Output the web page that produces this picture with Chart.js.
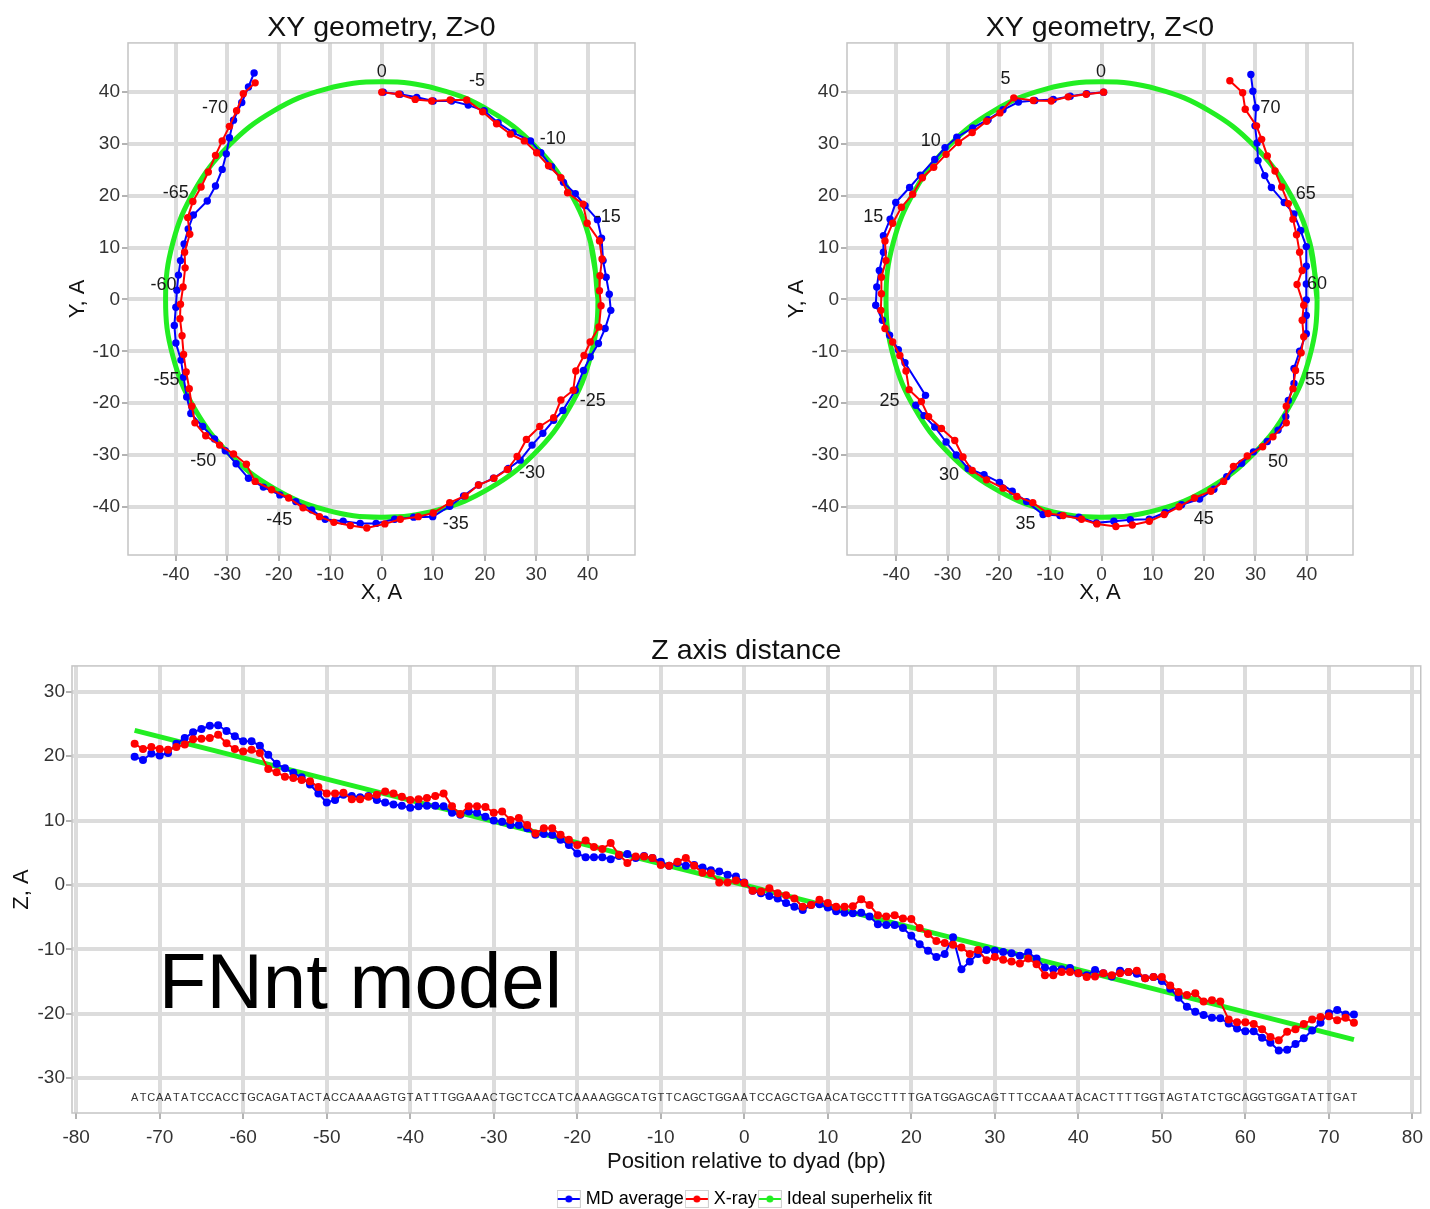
<!DOCTYPE html>
<html>
<head>
<meta charset="utf-8">
<title>FNnt model - DNA superhelix geometry</title>
<script src="https://cdn.jsdelivr.net/npm/chart.js@4.4.1/dist/chart.umd.min.js"></script>
<style>
  html, body { margin: 0; padding: 0; background: #fff; }
  body { width: 1430px; height: 1209px; position: relative; overflow: hidden; }
  canvas { position: absolute; }
</style>
</head>
<body>
<canvas id="xyPlus" width="690" height="615" style="left:0px;top:0px"></canvas>
<canvas id="xyMinus" width="730" height="615" style="left:700px;top:0px"></canvas>
<canvas id="zDist" width="1430" height="594" style="left:0px;top:615px"></canvas>

<script>
// ---- data: XY geometry, Z>0 (bp 0 .. -73) ----
const mdPlusX = [0.3, 3.6, 6.8, 10.0, 13.6, 16.8, 19.9, 22.6, 25.5, 28.9, 30.9, 33.0, 35.3, 37.6, 39.5, 41.9, 42.7, 43.0, 43.6, 44.2,
  44.5, 43.4, 42.1, 40.5, 39.2, 37.6, 35.2, 33.4, 31.3, 29.2, 26.9, 24.6, 21.7, 18.8, 15.9, 13.2, 9.9, 6.2, 2.5, -1.1,
  -4.2, -7.5, -11.0, -13.6, -16.7, -19.8, -23.0, -25.9, -28.3, -30.4, -32.5, -34.8, -37.1, -37.9, -38.5, -39.0, -40.0, -40.3, -40.0, -39.8,
  -39.5, -39.1, -38.4, -37.6, -36.6, -33.9, -32.3, -31.0, -30.2, -29.6, -28.8, -27.2, -25.9, -24.8];
const mdPlusY = [40.0, 39.6, 39.0, 38.3, 38.3, 37.5, 36.4, 34.1, 32.2, 30.6, 28.3, 25.6, 22.6, 20.4, 18.1, 15.4, 11.8, 7.5, 4.3, 1.0,
  -2.1, -5.6, -8.5, -11.1, -13.7, -17.5, -21.4, -23.3, -25.8, -28.1, -31.0, -32.6, -34.5, -35.8, -37.9, -39.9, -41.9, -42.0, -42.4, -43.2,
  -43.2, -42.8, -42.4, -40.6, -39.0, -37.7, -36.2, -34.5, -31.7, -29.2, -26.9, -24.5, -22.0, -18.8, -15.0, -11.7, -8.4, -5.0, -1.5, 1.8,
  4.7, 7.5, 10.7, 13.6, 16.3, 19.0, 21.9, 25.1, 28.1, 31.2, 34.6, 38.0, 41.0, 43.7];
const xrayPlusX = [0.0, 3.3, 6.5, 9.7, 13.3, 16.5, 19.6, 22.3, 25.0, 27.7, 30.1, 32.4, 34.8, 36.1, 39.1, 39.9, 42.3, 42.8, 42.4, 42.3,
  42.6, 42.2, 40.5, 39.3, 37.7, 37.2, 34.8, 33.4, 30.7, 28.1, 26.3, 24.4, 21.8, 18.8, 16.2, 13.2, 10.0, 7.1, 3.6, 0.6,
  -2.9, -6.1, -9.3, -12.1, -15.3, -18.1, -21.4, -24.6, -26.3, -28.8, -31.5, -34.2, -36.3, -36.9, -37.4, -38.0, -38.5, -38.8, -39.2, -39.1,
  -38.6, -38.2, -38.3, -37.3, -37.7, -36.7, -35.1, -33.7, -32.3, -31.0, -29.6, -28.2, -26.9, -24.6];
const xrayPlusY = [40.0, 39.6, 38.6, 38.3, 38.5, 38.5, 36.2, 33.9, 31.9, 30.6, 28.3, 25.8, 23.5, 20.6, 18.4, 14.7, 11.3, 7.8, 4.6, 1.7,
  -1.2, -5.3, -8.2, -10.8, -13.8, -17.5, -19.4, -22.8, -24.5, -27.0, -30.3, -32.8, -34.5, -35.8, -37.9, -39.2, -41.2, -41.9, -42.4, -43.3,
  -44.1, -43.6, -43.0, -41.9, -40.2, -38.3, -36.7, -35.1, -31.8, -29.8, -28.1, -26.3, -23.8, -20.6, -17.2, -14.0, -10.6, -7.0, -3.7, -0.9,
  2.4, 6.1, 9.1, 12.6, 15.8, 18.9, 21.7, 24.6, 27.8, 30.6, 33.4, 36.4, 39.7, 41.8];
const labelPlusText = ['0', '-5', '-10', '-15', '-25', '-30', '-35', '-45', '-50', '-55', '-60', '-65', '-70'];
const labelPlusX = [0.0, 18.5, 33.2, 43.9, 41.0, 29.2, 14.4, -19.9, -34.7, -41.8, -42.4, -40.0, -32.4];
const labelPlusY = [43.8, 42.2, 31.0, 15.9, -19.5, -33.5, -43.4, -42.6, -31.2, -15.6, 2.7, 20.5, 36.9];

// ---- data: XY geometry, Z<0 (bp 0 .. 73) ----
const mdMinusX = [0.4, -2.9, -6.1, -9.4, -13.0, -16.2, -19.2, -22.1, -25.1, -28.2, -30.5, -32.5, -35.3, -37.4, -40.1, -41.2, -42.5, -42.5, -43.3, -43.8,
  -44.0, -42.7, -41.3, -39.6, -38.3, -34.3, -36.2, -34.6, -32.5, -30.3, -28.3, -26.0, -22.9, -19.9, -17.4, -14.6, -11.4, -8.1, -4.4, -1.0,
  2.4, 5.6, 9.3, 12.4, 15.6, 19.1, 21.9, 24.4, 27.3, 29.6, 32.3, 34.4, 35.9, 36.4, 37.5, 37.5, 38.6, 39.9, 39.9, 39.9,
  39.9, 39.9, 39.9, 38.8, 37.5, 35.6, 33.1, 31.8, 30.5, 30.3, 29.9, 30.1, 29.5, 29.1];
const mdMinusY = [40.0, 39.7, 39.2, 38.6, 38.4, 38.1, 36.6, 34.7, 33.1, 31.3, 29.3, 27.0, 24.0, 21.6, 18.7, 15.5, 12.3, 9.1, 5.6, 2.4,
  -1.1, -4.0, -6.9, -9.7, -12.2, -18.5, -20.4, -22.4, -24.6, -27.5, -30.0, -32.6, -33.8, -35.3, -37.0, -39.0, -41.5, -41.7, -42.0, -43.1,
  -42.8, -42.5, -42.4, -41.1, -39.6, -38.5, -36.6, -34.2, -31.6, -29.4, -27.4, -25.2, -22.6, -19.5, -16.2, -13.3, -10.0, -6.6, -3.1, -0.1,
  3.0, 6.4, 10.2, 13.3, 16.5, 18.7, 21.6, 23.9, 26.8, 30.2, 33.5, 37.0, 40.2, 43.4];
const xrayMinusX = [0.4, -3.0, -6.5, -9.8, -13.3, -17.1, -19.8, -22.4, -25.2, -27.9, -30.3, -32.7, -34.9, -36.8, -39.0, -40.7, -42.2, -42.0, -42.9, -42.9,
  -43.0, -42.2, -40.7, -39.3, -38.1, -37.5, -35.1, -33.7, -31.2, -28.6, -27.0, -25.2, -22.4, -19.2, -16.5, -13.4, -10.4, -7.5, -3.9, -0.9,
  2.8, 6.0, 9.3, 12.2, 15.1, 18.1, 21.3, 23.8, 25.7, 28.4, 31.4, 33.4, 36.0, 36.0, 37.3, 37.8, 38.9, 39.4, 39.1, 39.4,
  38.1, 39.1, 38.6, 38.0, 37.3, 36.4, 35.1, 33.8, 32.3, 31.2, 30.2, 28.0, 27.5, 25.0];
const xrayMinusY = [40.0, 39.6, 39.1, 38.3, 38.4, 38.9, 36.0, 34.4, 32.2, 30.3, 28.0, 25.5, 23.5, 20.3, 17.8, 14.7, 11.3, 7.5, 4.3, 1.1,
  -2.1, -5.6, -8.2, -10.8, -13.8, -17.4, -19.7, -22.6, -24.9, -27.2, -30.4, -33.0, -34.8, -36.4, -38.0, -39.2, -41.3, -41.7, -42.4, -43.3,
  -43.8, -43.5, -42.8, -41.5, -40.0, -38.3, -37.0, -35.1, -32.2, -30.2, -28.4, -26.5, -23.8, -20.6, -17.2, -13.7, -10.3, -7.2, -4.0, -1.1,
  2.9, 5.6, 9.1, 12.5, 15.5, 18.5, 21.7, 24.8, 27.7, 30.9, 33.5, 36.7, 39.9, 42.2];
const labelMinusText = ['0', '5', '10', '15', '25', '30', '35', '45', '50', '55', '60', '65', '70'];
const labelMinusX = [-0.1, -18.7, -33.3, -44.5, -41.3, -29.7, -14.8, 19.9, 34.4, 41.6, 42.0, 39.8, 32.9];
const labelMinusY = [43.8, 42.5, 30.6, 16.0, -19.5, -33.9, -43.4, -42.4, -31.3, -15.6, 3.0, 20.4, 36.9];

// ideal superhelix fit, seen from above (radius ~42 A)
const idealX = [42.0, 40.6, 36.4, 29.7, 21.0, 10.9, 0.0, -10.9, -21.0, -29.7, -36.4, -40.6, -42.0,
  -40.6, -36.4, -29.7, -21.0, -10.9, 0.0, 10.9, 21.0, 29.7, 36.4, 40.6, 42.0, 40.6];
const idealY = [0.0, 10.9, 21.0, 29.7, 36.4, 40.6, 42.0, 40.6, 36.4, 29.7, 21.0, 10.9, 0.0,
  -10.9, -21.0, -29.7, -36.4, -40.6, -42.0, -40.6, -36.4, -29.7, -21.0, -10.9, 0.0, 10.9];

// ---- data: Z axis distance ----
const dyadPos = [-73, -72, -71, -70, -69, -68, -67, -66, -65, -64, -63, -62, -61, -60, -59, -58, -57, -56, -55, -54,
  -53, -52, -51, -50, -49, -48, -47, -46, -45, -44, -43, -42, -41, -40, -39, -38, -37, -36, -35, -34,
  -33, -32, -31, -30, -29, -28, -27, -26, -25, -24, -23, -22, -21, -20, -19, -18, -17, -16, -15, -14,
  -13, -12, -11, -10, -9, -8, -7, -6, -5, -4, -3, -2, -1, 0, 1, 2, 3, 4, 5, 6,
  7, 8, 9, 10, 11, 12, 13, 14, 15, 16, 17, 18, 19, 20, 21, 22, 23, 24, 25, 26,
  27, 28, 29, 30, 31, 32, 33, 34, 35, 36, 37, 38, 39, 40, 41, 42, 43, 44, 45, 46,
  47, 48, 49, 50, 51, 52, 53, 54, 55, 56, 57, 58, 59, 60, 61, 62, 63, 64, 65, 66,
  67, 68, 69, 70, 71, 72, 73];
const mdZ = [19.9, 19.4, 20.4, 20.1, 20.5, 21.9, 22.8, 23.7, 24.2, 24.7, 24.8, 23.9, 23.1, 22.3, 22.3, 21.6, 20.2, 18.8, 18.1, 17.4,
  16.7, 15.6, 14.2, 12.8, 13.2, 14.0, 13.8, 13.6, 13.8, 13.2, 12.8, 12.5, 12.3, 12.0, 12.2, 12.3, 12.3, 12.2, 11.2, 10.9,
  11.4, 11.2, 10.6, 10.0, 9.8, 9.3, 9.3, 8.8, 7.8, 7.9, 7.8, 7.0, 6.2, 4.9, 4.3, 4.3, 4.3, 4.0, 4.5, 4.8,
  4.2, 4.5, 4.2, 3.6, 3.0, 3.4, 3.0, 3.1, 2.7, 2.3, 2.1, 1.6, 1.3, 0.4, -0.9, -1.3, -1.7, -2.1, -2.8, -3.4,
  -3.9, -3.1, -3.0, -3.5, -4.1, -4.3, -4.4, -4.3, -4.9, -6.1, -6.2, -6.2, -6.7, -7.9, -9.2, -10.2, -11.2, -10.7, -8.1, -13.1,
  -11.9, -10.7, -10.1, -10.2, -10.4, -10.6, -11.0, -10.5, -11.4, -12.8, -13.1, -13.1, -12.9, -13.7, -14.0, -13.2, -13.7, -14.2, -13.3, -13.5,
  -13.8, -14.5, -14.3, -14.9, -16.1, -17.5, -18.9, -19.7, -20.2, -20.6, -20.7, -21.5, -22.3, -22.7, -22.7, -23.7, -24.5, -25.7, -25.6, -24.7,
  -23.8, -22.6, -21.4, -19.9, -19.4, -20.1, -20.1];
const xrayZ = [21.9, 21.1, 21.4, 21.1, 21.0, 21.4, 21.8, 22.6, 22.7, 22.8, 23.3, 22.0, 21.1, 20.7, 21.0, 20.5, 18.0, 17.5, 16.8, 16.6,
  16.3, 16.1, 15.2, 14.2, 14.2, 14.3, 13.3, 13.3, 13.7, 14.0, 14.5, 14.2, 13.7, 13.2, 13.3, 13.5, 13.8, 14.2, 12.2, 11.0,
  12.2, 12.2, 12.1, 11.2, 11.4, 10.1, 10.4, 9.3, 8.0, 8.8, 8.8, 7.8, 7.0, 6.2, 6.9, 5.9, 5.6, 6.5, 4.7, 3.4,
  4.4, 4.4, 4.2, 3.1, 3.0, 3.6, 4.2, 3.0, 1.9, 1.8, 0.4, 0.4, 0.7, 0.3, -0.9, -1.0, -0.5, -1.3, -1.6, -2.1,
  -3.4, -3.1, -2.3, -2.8, -3.4, -3.4, -3.3, -2.2, -3.1, -4.7, -4.9, -4.7, -5.2, -5.3, -6.7, -7.6, -8.7, -9.0, -9.3, -9.7,
  -10.7, -10.1, -11.7, -11.2, -11.6, -11.9, -12.2, -11.4, -12.3, -14.0, -14.0, -13.5, -13.5, -13.7, -14.3, -14.2, -13.7, -14.0, -13.7, -13.5,
  -13.3, -14.5, -14.3, -14.3, -15.6, -16.6, -17.1, -16.8, -18.1, -17.9, -18.1, -20.9, -21.3, -21.3, -21.6, -22.4, -23.6, -24.1, -22.8, -22.4,
  -21.6, -20.9, -20.5, -20.4, -21.0, -20.6, -21.4];
const idealPos = [-73, 73];
const idealZ = [24.0, -24.0];
const dnaSeq = 'ATCAATATCCACCTGCAGATACTACCAAAAGTGTATTTGGAAACTGCTCCATCAAAAGGCATGTTCAGCTGGAATCCAGCTGAACATGCCTTTTGATGGAGCAGTTTCCAAATACACTTTTGGTAGTATCTGCAGGTGGATATTGAT';

const FONT = '"Liberation Sans", Arial, Helvetica, sans-serif';
const BLUE = '#0000ff';
const RED = '#ff0000';
const GREEN = '#22ee22';

Chart.defaults.font.family = FONT;
Chart.defaults.color = '#333';

// zip two arrays into {x, y} points
function toPoints(xs, ys) {
  return xs.map((x, i) => ({ x: x, y: ys[i] }));
}

// small legend key: grey box with a line and a dot
function legendKey(color) {
  const c = document.createElement('canvas');
  c.width = 24;
  c.height = 18;
  const g = c.getContext('2d');
  g.strokeStyle = '#d0d0d0';
  g.lineWidth = 1;
  g.strokeRect(0.5, 0.5, 23, 17);
  g.strokeStyle = color;
  g.lineWidth = 2;
  g.beginPath(); g.moveTo(1, 9); g.lineTo(23, 9); g.stroke();
  g.fillStyle = color;
  g.beginPath(); g.arc(12, 9, 3.5, 0, Math.PI * 2); g.fill();
  return c;
}

// thin grey frame around the plot panel
const plotFrame = {
  id: 'plotFrame',
  beforeDatasetsDraw(chart) {
    const { ctx, chartArea: a } = chart;
    ctx.save();
    ctx.strokeStyle = '#c4c4c4';
    ctx.lineWidth = 1.5;
    ctx.strokeRect(a.left, a.top, a.right - a.left, a.bottom - a.top);
    ctx.restore();
  }
};

// center the title (and legend) over the plot panel instead of the whole canvas
const centerOnPanel = {
  id: 'centerOnPanel',
  afterLayout(chart) {
    const a = chart.chartArea;
    const mid = (a.left + a.right) / 2;
    [chart.titleBlock, chart.legend].forEach(b => {
      if (!b || !b.options || b.options.display === false) return;
      const d = mid - (b.left + b.right) / 2;
      b.left += d;
      b.right += d;
    });
  }
};

// bp numbers written next to the XY traces
const pointLabels = {
  id: 'pointLabels',
  afterDatasetsDraw(chart, args, opts) {
    if (!opts || !opts.text) return;
    const { ctx, scales: { x, y } } = chart;
    ctx.save();
    ctx.font = '18px ' + FONT;
    ctx.fillStyle = '#1a1a1a';
    ctx.textAlign = 'center';
    ctx.textBaseline = 'middle';
    opts.text.forEach((t, i) => {
      ctx.fillText(t, x.getPixelForValue(opts.x[i]), y.getPixelForValue(opts.y[i]));
    });
    ctx.restore();
  }
};

// DNA sequence along the bottom and the model name
const seqAndModel = {
  id: 'seqAndModel',
  afterDatasetsDraw(chart) {
    const { ctx, scales: { x, y } } = chart;
    ctx.save();
    ctx.fillStyle = '#333';
    ctx.font = '11px ' + FONT;
    ctx.textAlign = 'center';
    ctx.textBaseline = 'middle';
    const yy = y.getPixelForValue(-33.0);
    for (let i = 0; i < dnaSeq.length; i++) {
      ctx.fillText(dnaSeq[i], x.getPixelForValue(dyadPos[i]), yy);
    }
    ctx.fillStyle = '#000';
    ctx.font = '78px ' + FONT;
    ctx.textAlign = 'left';
    ctx.textBaseline = 'alphabetic';
    ctx.fillText('FNnt model', x.getPixelForValue(-70.1), y.getPixelForValue(-19.1));
    ctx.restore();
  }
};

const GRID = { color: '#dcdcdc', lineWidth: 4, drawTicks: true, tickLength: 6, tickColor: '#9a9a9a', tickWidth: 1.5 };
const TITLE_FONT = { size: 28.5, weight: 'normal', lineHeight: 1.05 };

function axis(min, max, title, fit, titlePad, tickPad) {
  return {
    type: 'linear',
    min: min,
    max: max,
    grid: GRID,
    border: { display: false },
    ticks: { stepSize: 10, includeBounds: false, autoSkip: false, maxRotation: 0, padding: tickPad, color: '#333', font: { size: 19 } },
    title: { display: true, text: title, color: '#111', font: { size: 22 }, padding: titlePad },
    afterFit: fit
  };
}

function xyChart(id, title, padLeft, padRight, xMin, xMax, md, xray, labels) {
  return new Chart(document.getElementById(id), {
    type: 'scatter',
    data: {
      datasets: [
        { label: 'MD average', data: md, showLine: true, borderColor: BLUE, backgroundColor: BLUE, borderWidth: 2, pointRadius: 3.7, pointBorderWidth: 0, order: 2 },
        { label: 'X-ray', data: xray, showLine: true, borderColor: RED, backgroundColor: RED, borderWidth: 2, pointRadius: 3.7, pointBorderWidth: 0, order: 1 },
        { label: 'Ideal superhelix fit', data: toPoints(idealX, idealY), showLine: true, borderColor: GREEN, backgroundColor: GREEN, borderWidth: 5, pointRadius: 0, tension: 0.4, order: 3 }
      ]
    },
    options: {
      responsive: false,
      animation: false,
      layout: { padding: { left: padLeft, right: padRight, top: 13, bottom: 5 } },
      scales: {
        x: axis(xMin, xMax, 'X, A', s => { s.height = 55; }, { top: 0, bottom: 4 }, 2),
        y: axis(-49.3, 49.5, 'Y, A', s => { s.width = 67; }, { top: 4, bottom: 0 }, 2)
      },
      plugins: {
        legend: { display: false },
        tooltip: { enabled: false },
        title: { display: true, text: title, color: '#111', font: TITLE_FONT, padding: { top: 0, bottom: 0 } },
        pointLabels: labels
      }
    },
    plugins: [plotFrame, centerOnPanel, pointLabels]
  });
}

xyChart('xyPlus', 'XY geometry, Z>0', 61, 55, -49.3, 49.2,
  toPoints(mdPlusX, mdPlusY), toPoints(xrayPlusX, xrayPlusY),
  { text: labelPlusText, x: labelPlusX, y: labelPlusY });

xyChart('xyMinus', 'XY geometry, Z<0', 80, 77, -49.6, 49.0,
  toPoints(mdMinusX, mdMinusY), toPoints(xrayMinusX, xrayMinusY),
  { text: labelMinusText, x: labelMinusX, y: labelMinusY });

// Z axis distance along the DNA
new Chart(document.getElementById('zDist'), {
  type: 'scatter',
  data: {
    datasets: [
      { label: 'MD average', data: toPoints(dyadPos, mdZ), showLine: true, borderColor: BLUE, backgroundColor: BLUE, borderWidth: 2, pointRadius: 4, pointBorderWidth: 0, order: 2 },
      { label: 'X-ray', data: toPoints(dyadPos, xrayZ), showLine: true, borderColor: RED, backgroundColor: RED, borderWidth: 2, pointRadius: 4, pointBorderWidth: 0, order: 1 },
      { label: 'Ideal superhelix fit', data: toPoints(idealPos, idealZ), showLine: true, borderColor: GREEN, backgroundColor: GREEN, borderWidth: 5, pointRadius: 0, order: 3 }
    ]
  },
  options: {
    responsive: false,
    animation: false,
    layout: { padding: { left: 5, right: 7, top: 21, bottom: 0 } },
    scales: {
      x: axis(-80.5, 81.0, 'Position relative to dyad (bp)', s => { s.height = 72; }, { top: 0, bottom: 10 }, 7),
      y: axis(-35.4, 34.0, 'Z, A', s => { s.width = 67; }, { top: 4, bottom: 0 }, 1)
    },
    plugins: {
      tooltip: { enabled: false },
      title: { display: true, text: 'Z axis distance', color: '#111', font: TITLE_FONT, padding: { top: 0, bottom: 0 } },
      legend: {
        position: 'bottom',
        maxHeight: 24,
        labels: {
          usePointStyle: true,
          pointStyleWidth: 16,
          boxHeight: 18,
          padding: 5,
          color: '#111',
          font: { size: 18 },
          generateLabels: chart => chart.data.datasets.map((ds, i) => ({
            text: ds.label,
            pointStyle: legendKey(ds.borderColor),
            fillStyle: ds.borderColor,
            strokeStyle: ds.borderColor,
            lineWidth: 0,
            hidden: false,
            datasetIndex: i
          }))
        }
      }
    }
  },
  plugins: [plotFrame, centerOnPanel, seqAndModel]
});
</script>
</body>
</html>
